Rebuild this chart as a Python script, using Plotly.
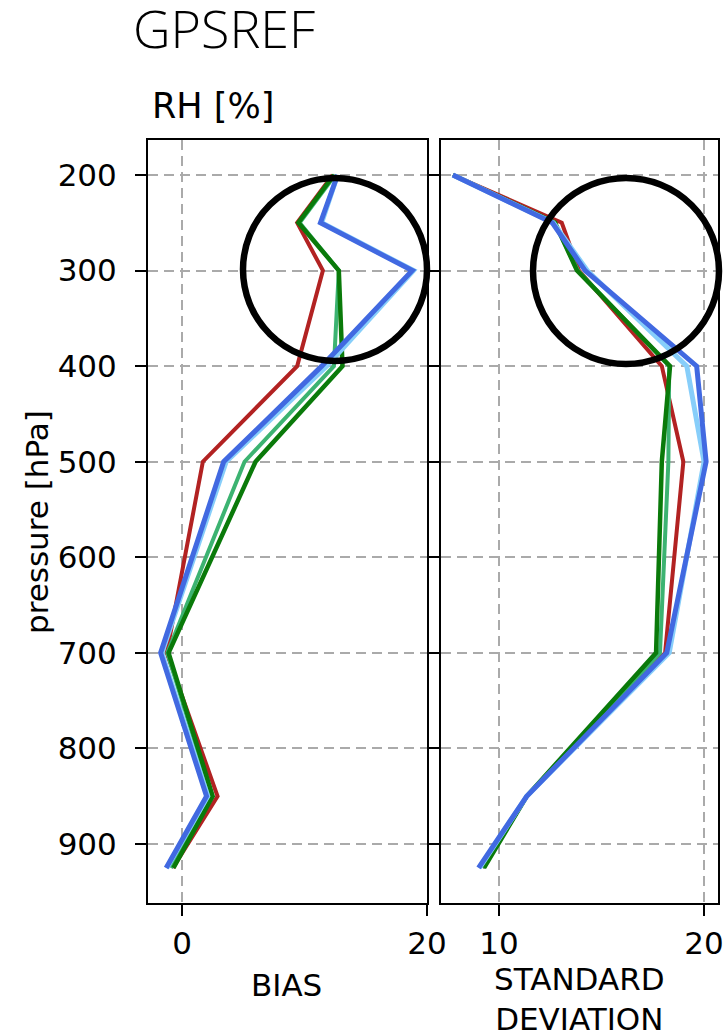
import plotly.graph_objects as go

# ---------------- data ----------------
pressure = [200, 250, 300, 400, 500, 700, 850, 925]

series_names = ["red", "medgreen", "darkgreen", "lightblue", "blue"]
series_colors = ["#b22222", "#3cb371", "#0a7a0a", "#87cefa", "#4169e1"]
series_widths = [4, 4, 4.5, 5, 5]

bias_red = [12.3, 9.4, 11.5, 9.4, 1.7, -1.25, 2.9, -0.75]
bias_medgreen = [12.5, 9.6, 12.8, 12.4, 5.1, -1.2, 2.4, -0.9]
bias_darkgreen = [12.4, 9.5, 12.8, 13.1, 6.0, -1.1, 2.5, -0.7]
bias_lightblue = [12.7, 11.4, 18.9, 11.8, 3.6, -1.65, 2.1, -1.25]
bias_blue = [12.7, 11.3, 18.8, 11.4, 3.4, -1.75, 2.0, -1.3]

std_red = [7.75, 13.06, 13.9, 17.94, 18.99, 18.1, 11.35, 9.2]
std_medgreen = [7.75, 12.7, 13.85, 18.3, 18.26, 17.85, 11.35, 9.2]
std_darkgreen = [7.75, 12.73, 13.8, 18.34, 17.94, 17.66, 11.35, 9.27]
std_lightblue = [7.75, 12.65, 14.3, 19.16, 20.0, 18.3, 11.35, 9.05]
std_blue = [7.75, 12.6, 14.2, 19.64, 20.1, 18.18, 11.35, 9.0]

bias_series = [bias_red, bias_medgreen, bias_darkgreen, bias_lightblue, bias_blue]
std_series = [std_red, std_medgreen, std_darkgreen, std_lightblue, std_blue]

y_ticks = [200, 300, 400, 500, 600, 700, 800, 900]
bias_ticks = [0, 20]
std_ticks = [10, 20]

title_text = "GPSREF"
variable_text = "RH [%]"
ylabel_text = "pressure [hPa]"
bias_label = "BIAS"
std_label = "STANDARD<br>DEVIATION"

# ---------------- layout helpers ----------------
W, H = 728, 1036


def px(x):
    return x / W


def py(y):
    return 1 - y / H


fig = go.Figure()

for name, col, lw, vals in zip(series_names, series_colors, series_widths, bias_series):
    fig.add_trace(go.Scatter(x=vals, y=pressure, mode="lines", name=name,
                             line=dict(color=col, width=lw),
                             xaxis="x", yaxis="y", showlegend=False))
for name, col, lw, vals in zip(series_names, series_colors, series_widths, std_series):
    fig.add_trace(go.Scatter(x=vals, y=pressure, mode="lines", name=name,
                             line=dict(color=col, width=lw),
                             xaxis="x2", yaxis="y2", showlegend=False))

tick_font = dict(family="DejaVu Sans", size=31, color="black")
grid = dict(showgrid=True, gridcolor="#aaaaaa", gridwidth=2, griddash="10px,6px",
            zeroline=False, showline=True, linecolor="black", linewidth=2,
            mirror=True, ticks="outside", ticklen=11, tickwidth=1.8,
            tickcolor="black", tickfont=tick_font, automargin=False)

yrange = [961.7, 163.4]

fig.update_layout(
    width=W, height=H, autosize=False,
    margin=dict(l=0, r=0, t=0, b=0, pad=0, autoexpand=False),
    paper_bgcolor="white", plot_bgcolor="white",
    xaxis=dict(domain=[px(148), px(427)], range=[-2.78, 20], anchor="y",
               tickvals=bias_ticks, ticktext=[str(v) for v in bias_ticks],
               ticklabelstandoff=1, **grid),
    xaxis2=dict(domain=[px(441), px(718)], range=[7.17, 20.68], anchor="y2",
                tickvals=std_ticks, ticktext=[str(v) for v in std_ticks],
                ticklabelstandoff=1, **grid),
    yaxis=dict(domain=[py(903), py(140)], range=yrange, anchor="x",
               tickvals=y_ticks, ticktext=[str(v) for v in y_ticks],
               ticklabelstandoff=12, **grid),
    yaxis2=dict(domain=[py(903), py(140)], range=yrange, anchor="x2",
                tickvals=y_ticks, showticklabels=False, **grid),
)

# circles highlighting upper levels
fig.add_shape(type="circle", xref="paper", yref="paper",
              x0=px(243), x1=px(427), y0=py(178), y1=py(361),
              line=dict(color="black", width=6.5))
fig.add_shape(type="circle", xref="paper", yref="paper",
              x0=px(533), x1=px(719), y0=py(178), y1=py(364),
              line=dict(color="black", width=6.5))

annots = [
    dict(text=title_text, x=px(224), y=py(27),
         font=dict(family="Open Sans", size=52, color="black", weight=300),
         xanchor="center", yanchor="middle"),
    dict(text=variable_text, x=px(150), y=py(106), font=dict(family="DejaVu Sans", size=35, color="black"),
         xanchor="left", yanchor="middle"),
    dict(text=ylabel_text, x=px(37), y=py(522), textangle=-90,
         font=dict(family="DejaVu Sans", size=31, color="black"),
         xanchor="center", yanchor="middle"),
    dict(text=bias_label, x=px(286), y=py(985), font=dict(family="DejaVu Sans", size=31, color="black"),
         xanchor="center", yanchor="middle"),
    dict(text=std_label, x=px(579), y=py(999), font=dict(family="DejaVu Sans", size=31, color="black"),
         xanchor="center", yanchor="middle"),
]
for a in annots:
    fig.add_annotation(xref="paper", yref="paper", showarrow=False, **a)

post = ("document.documentElement.style.margin='0';"
        "document.documentElement.style.overflow='hidden';"
        "document.body.style.margin='0';"
        "document.body.style.padding='0';"
        "document.body.style.overflow='hidden';")

fig.write_html("out.html", config={"responsive": False, "displayModeBar": False}, post_script=post)
